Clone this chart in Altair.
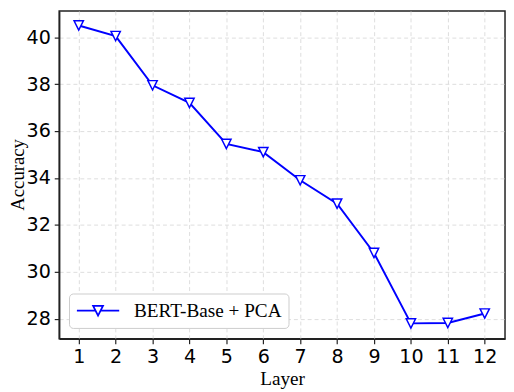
import altair as alt
import pandas as pd

layers = [1, 2, 3, 4, 5, 6, 7, 8, 9, 10, 11, 12]
accuracy = [40.5, 40.05, 37.95, 37.2, 35.45, 35.1, 33.9, 32.9, 30.8, 27.8, 27.82, 28.22]
y_ticks = [28, 30, 32, 34, 36, 38, 40]
series_name = "BERT-Base + PCA"

df = pd.DataFrame({"Layer": layers, "Accuracy": accuracy, "Series": [series_name] * len(layers)})

BLUE = "#0000ff"
TRI_DOWN = "M0,1L-1,-1L1,-1Z"
LEGEND_SYM = "M-1,0L-0.116,0M0.116,0L1,0M0,0.2326L-0.2326,-0.2326L0.2326,-0.2326Z"

x = alt.X(
    "Layer:Q",
    scale=alt.Scale(domain=[0.47, 12.55], nice=False, zero=False),
    axis=alt.Axis(values=layers, title="Layer", labelPadding=4, titleY=46,
                  titleBaseline="alphabetic", format="d"),
)
y = alt.Y(
    "Accuracy:Q",
    scale=alt.Scale(domain=[27.144, 41.116], nice=False, zero=False),
    axis=alt.Axis(values=y_ticks, title="Accuracy", labelPadding=4, titleX=-51, titleY=166,
                  titleBaseline="top", titleAlign="center", titleAngle=270,
                  titleFontSize=19),
)

line = alt.Chart(df).mark_line(strokeWidth=2, color=BLUE).encode(
    x=x,
    y=y,
    color=alt.Color(
        "Series:N",
        scale=alt.Scale(range=[BLUE]),
        legend=alt.Legend(
            title=None,
            orient="none",
            legendX=10,
            legendY=287,
            symbolType=LEGEND_SYM,
            symbolSize=1849,
            symbolStrokeWidth=1.8,
            symbolStrokeColor=BLUE,
            symbolFillColor="white",
            clipHeight=21,
            padding=7,
            labelOffset=14,
            labelFont="Liberation Serif",
            labelFontSize=19.5,
            labelColor="black",
            strokeColor="#cccccc",
            fillColor="white",
            cornerRadius=4,
        ),
    ),
)

points = alt.Chart(df).mark_point(
    shape=TRI_DOWN, size=90, filled=False, fill="white", fillOpacity=1,
    stroke=BLUE, strokeWidth=1.5, opacity=1,
).encode(x=x, y=y)

chart = (
    alt.layer(line, points)
    .properties(
        width=453,
        height=333,
        autosize=alt.AutoSizeParams(type="none"),
        padding={"left": 52, "top": 0, "right": 1, "bottom": 51},
    )
    .configure_view(stroke="#222222", strokeWidth=1.5)
    .configure_axis(
        labelFont="DejaVu Sans",
        labelFontSize=19.4,
        labelColor="black",
        tickColor="#222222",
        tickSize=5,
        tickWidth=1.2,
        domainColor="#222222",
        domainWidth=1.5,
        grid=True,
        gridColor="#dddddd",
        gridDash=[4, 3],
        gridWidth=1,
        titleFont="Liberation Serif",
        titleFontSize=19.5,
        titleFontWeight="normal",
        titleColor="black",
    )
)

chart.save("out.html", embed_options={"renderer": "svg", "actions": False})
